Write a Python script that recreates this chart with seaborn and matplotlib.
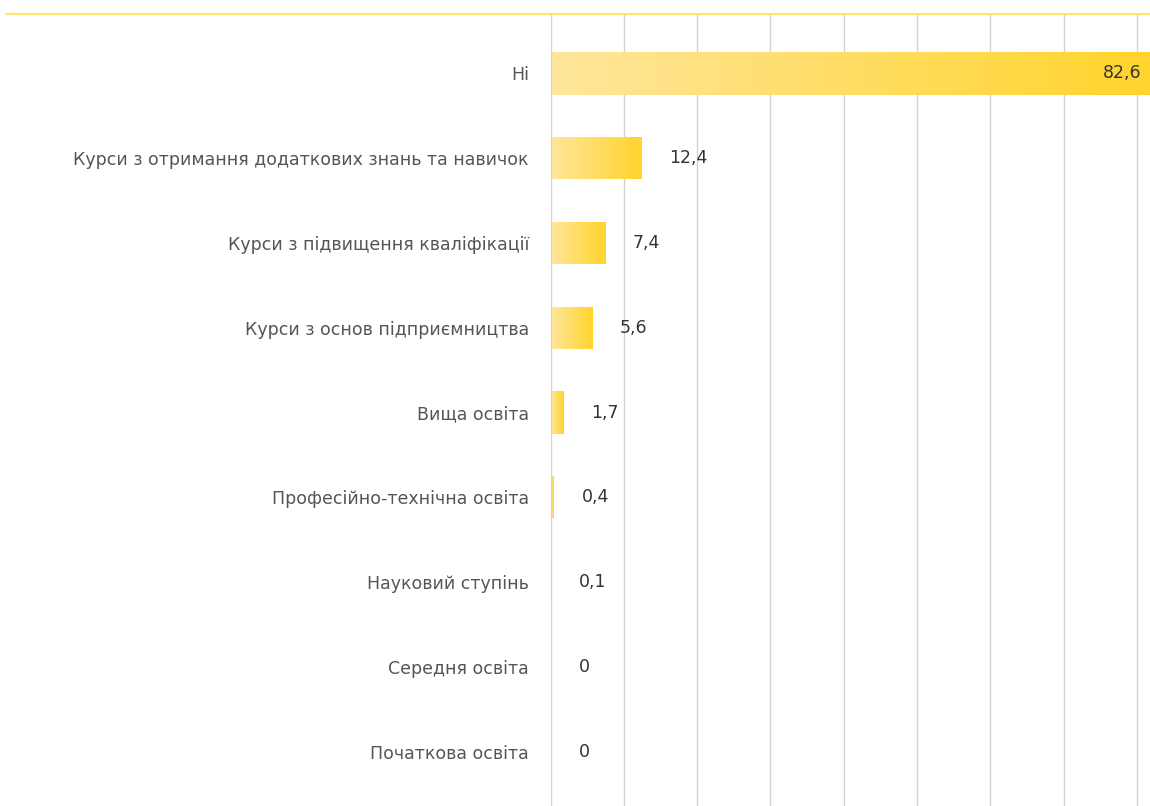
import matplotlib
matplotlib.use("Agg")
import matplotlib.pyplot as plt
import seaborn as sns
import numpy as np
import pandas as pd
from matplotlib.colors import LinearSegmentedColormap
from matplotlib.lines import Line2D

categories = ["Ні", "Курси з отримання додаткових знань та навичок",
              "Курси з підвищення кваліфікації", "Курси з основ підприємництва",
              "Вища освіта", "Професійно-технічна освіта", "Науковий ступінь",
              "Середня освіта", "Початкова освіта"]
values = [82.6, 12.4, 7.4, 5.6, 1.7, 0.4, 0.1, 0, 0]
labels = ["82,6", "12,4", "7,4", "5,6", "1,7", "0,4", "0,1", "0", "0"]

df = pd.DataFrame({"cat": categories, "val": values})

sns.set_theme(style="white")
plt.rcParams['font.family'] = ['DejaVu Sans']

fig = plt.figure(figsize=(11.5, 8.06), dpi=100)
ax = fig.add_axes([550.5 / 1150, (806 - 811) / 806, 1 - 550.5 / 1150, (811 - 14) / 806])

sns.barplot(data=df, x="val", y="cat", orient="h", ax=ax, width=0.5,
            color="#FFE69A", saturation=1, edgecolor="none", linewidth=0)

XMAX = 81.8
ax.set_xlim(0, XMAX)
ax.set_ylim(len(categories) - 1 + 0.7, -0.7)

cmap = LinearSegmentedColormap.from_list("g", ["#FFE69C", "#FFD42B"])
grad = np.linspace(0, 1, 256).reshape(1, -1)
for p in list(ax.patches):
    w = p.get_width()
    if w <= 0:
        continue
    x0, y0, h = p.get_x(), p.get_y(), p.get_height()
    im = ax.imshow(grad, cmap=cmap, aspect="auto", extent=[x0, x0 + w, y0 + h, y0],
                   zorder=2, interpolation="bilinear")
    im.set_clip_path(p)
    p.set_facecolor("none")
    ax.plot([x0 + 0.05, x0 + 0.05], [y0, y0 + h], color="#F2CF5E", lw=1.2, zorder=3)

ax.set_xticks(np.arange(0, 81, 10))
ax.xaxis.grid(True, color="#D3D3D3", linewidth=1)
ax.set_axisbelow(True)
ax.tick_params(axis="x", length=0, labelbottom=False)
ax.tick_params(axis="y", length=0, pad=15.5, labelsize=12.5, labelcolor="#555555")
ax.set_xlabel("")
ax.set_ylabel("")
for s in ax.spines.values():
    s.set_visible(False)

px_per_unit = (1150 - 550.5) / XMAX
for i, (v, lab) in enumerate(zip(values, labels)):
    if v > 70:
        ax.text(XMAX - 9 / px_per_unit, i, lab, ha="right", va="center",
                fontsize=12.5, color="#333333", zorder=4)
    else:
        ax.text(v + 28 / px_per_unit, i, lab, ha="left", va="center",
                fontsize=12.5, color="#333333", zorder=4)

fig.add_artist(Line2D([6 / 1150, 1], [(806 - 14) / 806] * 2, color="#FFE36A",
                      lw=1.5, transform=fig.transFigure))

fig.savefig("out.png", dpi=100)
